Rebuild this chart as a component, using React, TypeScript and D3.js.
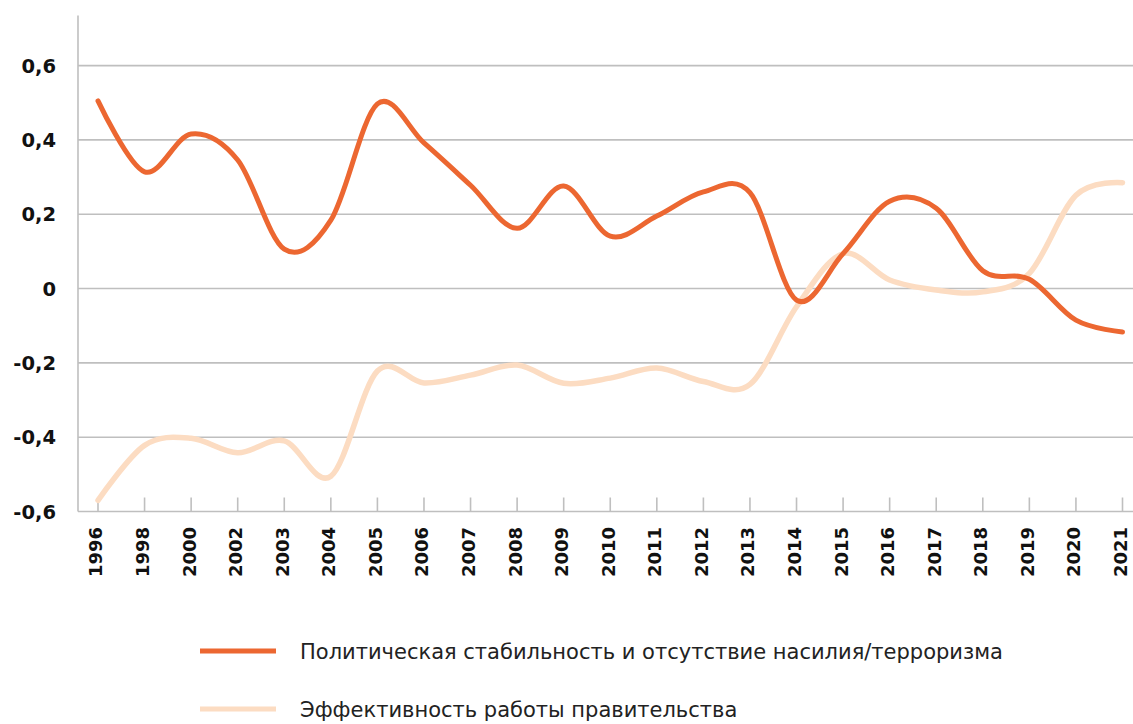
import React from "react";
import * as d3 from "d3";

const years = ["1996","1998","2000","2002","2003","2004","2005","2006","2007","2008","2009","2010","2011","2012","2013","2014","2015","2016","2017","2018","2019","2020","2021"];
const stability = [0.505,0.314,0.416,0.346,0.106,0.184,0.497,0.392,0.278,0.162,0.276,0.141,0.195,0.26,0.258,-0.031,0.094,0.235,0.216,0.048,0.025,-0.085,-0.117];
const effectiveness = [-0.57,-0.422,-0.403,-0.442,-0.41,-0.505,-0.222,-0.254,-0.233,-0.206,-0.255,-0.241,-0.214,-0.25,-0.258,-0.049,0.094,0.023,-0.004,-0.009,0.041,0.251,0.285];
const yTicks = [-0.6,-0.4,-0.2,0,0.2,0.4,0.6];
const seriesNames = ["Политическая стабильность и отсутствие насилия/терроризма","Эффективность работы правительства"];
const colors = ["#EC6731","#FCDCC2"];

const W = 1133, H = 724;

export default function App() {
  const x = d3.scalePoint<string>().domain(years).range([98, 1122.5]);
  const y = d3.scaleLinear().domain([-0.6, 0.6]).range([511.5, 65.6]);
  const axisLeft = 78;
  const axisTop = y(0.735);
  const line = d3.line<number>()
    .x((_, i) => x(years[i]) as number)
    .y((d) => y(d))
    .curve(d3.curveCardinal.tension(0));
  const fmt = (v: number) => (v === 0 ? "0" : v.toFixed(1).replace(".", ","));
  const grid = "#BFBFBF";
  return (
    <svg width={W} height={H} style={{ position: "absolute", left: 0, top: 0, background: "#fff" }}>
      {yTicks.map((t) => (
        <line key={"g" + t} x1={axisLeft} x2={W} y1={y(t)} y2={y(t)} stroke={grid} strokeWidth={1.6} />
      ))}
      <line x1={axisLeft} x2={axisLeft} y1={axisTop} y2={y(-0.6)} stroke={grid} strokeWidth={1.6} />
      {years.map((yr) => (
        <line key={"t" + yr} x1={x(yr)} x2={x(yr)} y1={y(-0.6) - 14} y2={y(-0.6)} stroke={grid} strokeWidth={1.6} />
      ))}
      {yTicks.map((t) => (
        <text key={"l" + t} x={56} y={y(t)} dy="0.36em" textAnchor="end"
          fontFamily="'DejaVu Sans', sans-serif" fontWeight="bold" fontSize={19.5} fill="#111">
          {fmt(t)}
        </text>
      ))}
      {years.map((yr) => (
        <text key={"x" + yr} transform={`translate(${(x(yr) as number) - 2},527) rotate(-90)`} dy="0.36em"
          textAnchor="end" fontFamily="'DejaVu Sans', sans-serif" fontWeight="bold" fontSize={18} fill="#111">
          {yr}
        </text>
      ))}
      <path d={line(effectiveness) || ""} fill="none" stroke={colors[1]} strokeWidth={5.5} strokeLinecap="round" />
      <path d={line(stability) || ""} fill="none" stroke={colors[0]} strokeWidth={5} strokeLinecap="round" />
      {seriesNames.map((n, i) => (
        <g key={"lg" + i}>
          <line x1={200} x2={276} y1={651 + i * 58} y2={651 + i * 58} stroke={colors[i]} strokeWidth={5} />
          <text x={300} y={651 + i * 58} dy="0.36em" fontFamily="'DejaVu Sans', sans-serif" fontSize={21} fill="#222">
            {n}
          </text>
        </g>
      ))}
    </svg>
  );
}
